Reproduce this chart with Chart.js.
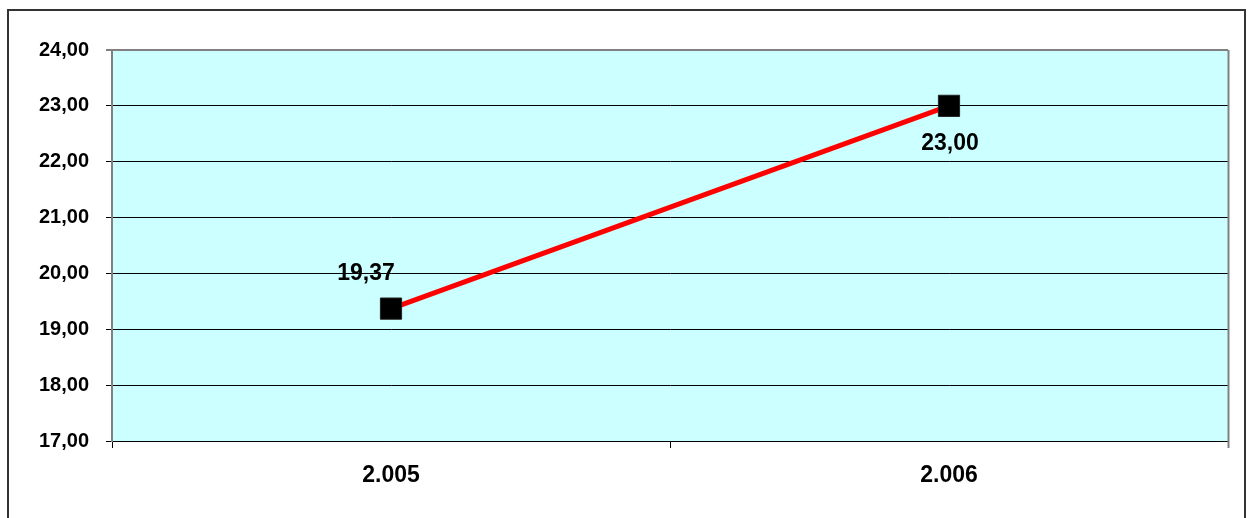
<!DOCTYPE html>
<html>
<head>
<meta charset="utf-8">
<script src="https://cdn.jsdelivr.net/npm/chart.js@4/dist/chart.umd.min.js"></script>
<style>
html,body{margin:0;padding:0;background:#fff;}
#wrap{width:1251px;height:518px;position:relative;}
</style>
</head>
<body>
<div id="wrap"><canvas id="c" width="1251" height="518"></canvas></div>
<script>
const categories = ["2.005", "2.006"];
const values = [19.37, 23.00];
const valueLabels = ["19,37", "23,00"];
const yMin = 17, yMax = 24, yStep = 1;

const FONT = "'Liberation Sans', Arial, sans-serif";
const fmt = v => v.toFixed(2).replace('.', ',');

const framePlugin = {
  id: 'frame',
  beforeDraw(chart) {
    const {ctx, chartArea: a} = chart;
    ctx.save();
    ctx.fillStyle = '#fff';
    ctx.fillRect(0, 0, chart.width, chart.height);
    ctx.strokeStyle = '#333';
    ctx.lineWidth = 2;
    ctx.strokeRect(8, 10, 1237, 520);
    ctx.fillStyle = '#CCFFFF';
    ctx.fillRect(a.left, a.top, a.right - a.left, a.bottom - a.top);
    ctx.restore();
  },
  afterDraw(chart) {
    const {ctx, chartArea: a} = chart;
    ctx.save();
    ctx.strokeStyle = '#808080';
    ctx.lineWidth = 2;
    ctx.beginPath();
    ctx.moveTo(a.right + 0.5, a.top);
    ctx.lineTo(a.right + 0.5, a.bottom + 7);
    ctx.stroke();
    ctx.restore();
  }
};

const labelPlugin = {
  id: 'vlabels',
  afterDatasetsDraw(chart) {
    const {ctx} = chart;
    const meta = chart.getDatasetMeta(0);
    const offs = [[-25, -35], [1, 38]];
    ctx.save();
    ctx.fillStyle = '#000';
    ctx.font = 'bold 23px ' + FONT;
    ctx.textAlign = 'center';
    ctx.textBaseline = 'middle';
    meta.data.forEach((pt, i) => {
      ctx.fillText(valueLabels[i], pt.x + offs[i][0], pt.y + offs[i][1]);
    });
    ctx.restore();
  }
};

new Chart(document.getElementById('c'), {
  type: 'line',
  data: {
    labels: categories,
    datasets: [{
      data: values,
      borderColor: '#FF0000',
      borderWidth: 5,
      pointStyle: 'rect',
      pointRadius: 15,
      pointHoverRadius: 15,
      pointBackgroundColor: '#000',
      pointBorderColor: '#222',
      pointBorderWidth: 1,
      tension: 0
    }]
  },
  options: {
    responsive: false,
    animation: false,
    events: [],
    layout: {padding: {left: 0, top: 50, right: 23, bottom: 0}},
    plugins: {legend: {display: false}, tooltip: {enabled: false}},
    scales: {
      x: {
        type: 'category',
        offset: true,
        grid: {offset: true, drawOnChartArea: false, color: '#000', tickLength: 7, lineWidth: 1},
        border: {color: '#000', width: 1},
        ticks: {color: '#000', font: {family: FONT, size: 23, weight: 'bold'}, padding: 14, maxRotation: 0},
        afterFit(s) { s.height = 77; }
      },
      y: {
        min: yMin, max: yMax,
        grid: {color: c => (c.tick && c.tick.value === yMax) ? '#808080' : '#000', tickLength: 6, lineWidth: c => (c.tick && c.tick.value === yMax) ? 2 : 1},
        border: {color: '#808080', width: 2},
        ticks: {stepSize: yStep, color: '#000', font: {family: FONT, size: 20, weight: 'bold'}, padding: 17, callback: v => fmt(v)},
        afterFit(s) { s.width = 112; }
      }
    }
  },
  plugins: [framePlugin, labelPlugin]
});
</script>
</body>
</html>
